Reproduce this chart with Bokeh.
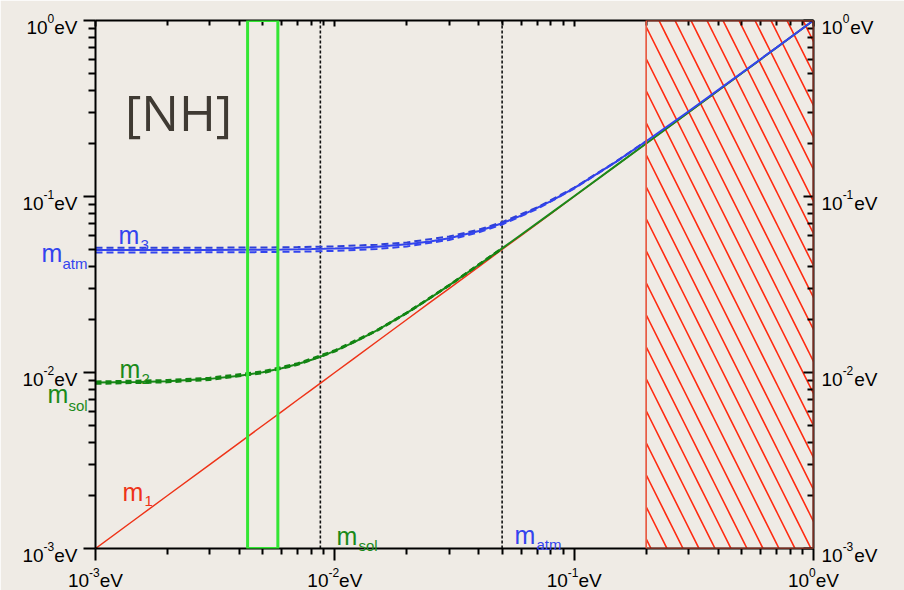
from bokeh.plotting import figure
from bokeh.layouts import column
from bokeh.models import LogAxis, FixedTicker, Label, ColumnDataSource, BoxAnnotation, Range1d
from bokeh.embed import file_html
from bokeh.resources import INLINE

# ---------------- data ----------------
lightest = [0.001, 0.0015, 0.002, 0.003, 0.004, 0.005, 0.006, 0.007, 0.008, 0.009,
            0.01, 0.012, 0.015, 0.02, 0.025, 0.03, 0.04, 0.05, 0.06, 0.08,
            0.1, 0.15, 0.2, 0.3, 0.5, 0.7, 1.0]
m1_vals = [0.001, 0.0015, 0.002, 0.003, 0.004, 0.005, 0.006, 0.007, 0.008, 0.009,
           0.01, 0.012, 0.015, 0.02, 0.025, 0.03, 0.04, 0.05, 0.06, 0.08,
           0.1, 0.15, 0.2, 0.3, 0.5, 0.7, 1.0]
m2_vals = [0.00876, 0.00883, 0.00893, 0.00920, 0.00958, 0.01003, 0.01057, 0.01117, 0.01182, 0.01252,
           0.01326, 0.01482, 0.01734, 0.02181, 0.02647, 0.03124, 0.04094, 0.05075, 0.06063, 0.08047,
           0.10038, 0.15025, 0.20019, 0.30013, 0.50008, 0.70005, 1.00004]
m3_vals = [0.04961, 0.04962, 0.04964, 0.04969, 0.04976, 0.04985, 0.04996, 0.05009, 0.05024, 0.05041,
           0.05060, 0.05103, 0.05182, 0.05348, 0.05554, 0.05797, 0.06372, 0.07043, 0.07785, 0.09413,
           0.11162, 0.15799, 0.20606, 0.30407, 0.50245, 0.70175, 1.00123]

band3_x = [0.001, 0.002, 0.003, 0.005, 0.007, 0.01, 0.015, 0.02, 0.03, 0.04, 0.05, 0.07, 0.1, 0.15, 0.2]
m3_hi = [0.05110, 0.05113, 0.05118, 0.05133, 0.05157, 0.05206, 0.05324, 0.05486, 0.05925, 0.06488,
         0.07148, 0.08666, 0.11229, 0.15846, 0.20642]
m3_lo = [0.04807, 0.04810, 0.04816, 0.04832, 0.04857, 0.04909, 0.05035, 0.05206, 0.05666, 0.06253,
         0.06935, 0.08491, 0.11095, 0.15751, 0.20569]

band2_x = [0.001, 0.002, 0.003, 0.005, 0.007, 0.01, 0.015, 0.02, 0.03, 0.05]
m2_hi = [0.008866, 0.009033, 0.009306, 0.010129, 0.011252, 0.013327, 0.017396, 0.021854, 0.031266, 0.050770]
m2_lo = [0.008649, 0.008820, 0.009099, 0.009940, 0.011082, 0.013183, 0.017286, 0.021767, 0.031206, 0.050733]

m_sol = 0.0087          # vertical dashed line
m_atm = 0.05            # vertical dashed line
box_range = [0.00432, 0.00578]   # green rectangle
excluded = [0.2, 1.0]            # hatched region

major_ticks = [0.001, 0.01, 0.1, 1.0]
tick_base = "10"
tick_exponents = ["-3", "-2", "-1", "0"]
left_unit = "eV"
right_unit = " eV"
minor_ticks = [m * 10.0 ** e for e in (-3, -2, -1) for m in range(2, 10)]

# ---------------- styling ----------------
BG = "#efebe5"
RED = "#ee3318"
GREEN = "#1a8a1a"
BLUE = "#3344ee"
FONT = "Liberation Sans"
W, H = 904, 590
FL, FR, FT, FB = 95, 813, 20, 548   # frame edges in page pixels
TICK_FS, SUP_FS = 19, 12

# Liberation Sans advance widths (em)
ADV = {"0": 0.556, "1": 0.556, "2": 0.556, "3": 0.556, "-": 0.333, "e": 0.556, "V": 0.667, " ": 0.278}


def tw(s, fs):
    return sum(ADV.get(c, 0.556) for c in s) * fs


p = figure(width=W, height=H, x_axis_type="log", y_axis_type="log",
           x_range=(0.001, 1.0), y_range=(0.001, 1.0),
           output_backend="svg", toolbar_location=None,
           min_border_left=FL, min_border_right=W - FR,
           min_border_top=FT, min_border_bottom=H - FB)
p.background_fill_color = BG
p.border_fill_color = BG
p.outline_line_color = None
p.grid.visible = False
p.frame_align = False

# hatched region
p.add_layout(BoxAnnotation(left=excluded[0], right=excluded[1], bottom=0.001, top=1.0,
                           fill_color=None, fill_alpha=0, line_color="#e8907e", line_alpha=1,
                           line_width=1.5, hatch_pattern="\\", hatch_color="#ff2a10",
                           hatch_weight=1.6, hatch_scale=32, hatch_alpha=1, level="underlay"))

# vertical dashed lines
for xv in (m_sol, m_atm):
    p.line([xv, xv], [0.001, 1.0], line_color="#111111", line_width=1.6, line_dash="3 2")

# curves
src = ColumnDataSource(dict(x=lightest, m1=m1_vals, m2=m2_vals, m3=m3_vals))
p.line("x", "m1", source=src, line_color=RED, line_width=1.5)
p.line("x", "m2", source=src, line_color=GREEN, line_width=2)
p.line("x", "m3", source=src, line_color=BLUE, line_width=2)

# uncertainty bands
p.line(band2_x, m2_hi, line_color="#128412", line_width=2.5, line_dash="6 4")
p.line(band2_x, m2_lo, line_color="#128412", line_width=2.5, line_dash="6 4")
p.line(band3_x, m3_hi, line_color="#2f40d8", line_width=2, line_dash="7 4")
p.line(band3_x, m3_lo, line_color=BLUE, line_width=2, line_dash="7 4")

# red edge of hatched region and green box, above the axes
p.add_layout(BoxAnnotation(left=excluded[0], right=excluded[1], bottom=0.001, top=1.0,
                           fill_color=None, fill_alpha=0, line_color="#e85a42", line_alpha=1,
                           line_width=1.5, level="overlay"))
p.add_layout(BoxAnnotation(left=box_range[0], right=box_range[1], bottom=0.001, top=1.0,
                           fill_color=None, fill_alpha=0, line_color="#33e633", line_alpha=1,
                           line_width=3, level="overlay"))

# ---------------- axes ----------------
ticker = FixedTicker(ticks=major_ticks, minor_ticks=minor_ticks)


def style_axis(ax, tin, tout, min_in, min_out):
    ax.ticker = ticker
    ax.axis_line_width = 2
    ax.axis_line_color = "black"
    ax.major_tick_line_width = 2
    ax.minor_tick_line_width = 2
    ax.major_tick_in = tin
    ax.major_tick_out = tout
    ax.minor_tick_in = min_in
    ax.minor_tick_out = min_out
    ax.major_label_text_font_size = "0px"
    ax.major_label_text_alpha = 0
    ax.major_label_standoff = 0


style_axis(p.xaxis[0], 0, 12, 0, 6)
style_axis(p.yaxis[0], 0, 12, 0, 7)
right_ax = LogAxis()
style_axis(right_ax, 10, 0, 6, 0)
p.add_layout(right_ax, "right")
top_ax = LogAxis()
style_axis(top_ax, 6, 0, 5, 0)
p.add_layout(top_ax, "above")

# ---------------- text layer: a transparent figure laid over the chart ----------------
t = figure(width=W, height=H, x_range=Range1d(0, W), y_range=Range1d(H, 0),
           output_backend="svg", toolbar_location=None, min_border=0,
           x_axis_type=None, y_axis_type=None)
t.background_fill_alpha = 0
t.border_fill_alpha = 0
t.outline_line_color = None
t.grid.visible = False
t.frame_align = False
t.styles = {"position": "absolute", "left": "0px", "top": "0px", "pointer-events": "none"}


def put(px, py, text, color, size, font=FONT, align="left"):
    t.add_layout(Label(x=px, y=py, text=text, text_color=color, text_font=font,
                       text_font_size="%dpx" % size, text_align=align,
                       text_baseline="alphabetic"))


# tick labels: "10" + superscript exponent + unit
for i, ex in enumerate(tick_exponents):
    frac = i / (len(major_ticks) - 1)
    ty = FB - frac * (FB - FT)
    tx = FL + frac * (FR - FL)
    # left axis (right aligned at x=77)
    x_unit = 77 - tw(left_unit, TICK_FS)
    x_sup = x_unit - tw(ex, SUP_FS)
    put(x_sup, ty + 7, tick_base, "black", TICK_FS, align="right")
    put(x_sup, ty - 2, ex, "black", SUP_FS)
    put(x_unit, ty + 7, left_unit, "black", TICK_FS)
    # right axis (left aligned at x=821)
    x0 = 821
    x_sup = x0 + tw(tick_base, TICK_FS)
    put(x0, ty + 7, tick_base, "black", TICK_FS)
    put(x_sup, ty - 2, ex, "black", SUP_FS)
    put(x_sup + tw(ex, SUP_FS) + 1, ty + 7, right_unit, "black", TICK_FS)
    # bottom axis (centred on tick)
    total = tw(tick_base, TICK_FS) + tw(ex, SUP_FS) + tw(left_unit, TICK_FS)
    xs = tx - total / 2
    put(xs, 580, tick_base, "black", TICK_FS)
    put(xs + tw(tick_base, TICK_FS), 572, ex, "black", SUP_FS)
    put(xs + tw(tick_base, TICK_FS) + tw(ex, SUP_FS), 580, left_unit, "black", TICK_FS)

put(178, 111, "[NH]", "#3f3a33", 50, font="Open Sans", align="center")

put(118, 234, "m", BLUE, 25)
put(140, 244, "3", BLUE, 15)
put(41, 252, "m", BLUE, 25)
put(62, 263, "atm", BLUE, 15)

put(119, 368, "m", GREEN, 25)
put(141, 378, "2", GREEN, 15)
put(47, 393, "m", GREEN, 25)
put(68, 405, "sol", GREEN, 15)

put(122, 491, "m", RED, 25)
put(144, 500, "1", RED, 15)

put(336, 535, "m", GREEN, 25)
put(358, 545, "sol", GREEN, 15)
put(514, 534, "m", BLUE, 25)
put(536, 544, "atm", BLUE, 15)

layout = column(p, t, spacing=0)
layout.styles = {"position": "relative"}

html = file_html(layout, INLINE)
html = html.replace("<body>", '<body style="background-color:%s;">' % BG, 1)
open("out.html", "w").write(html)
